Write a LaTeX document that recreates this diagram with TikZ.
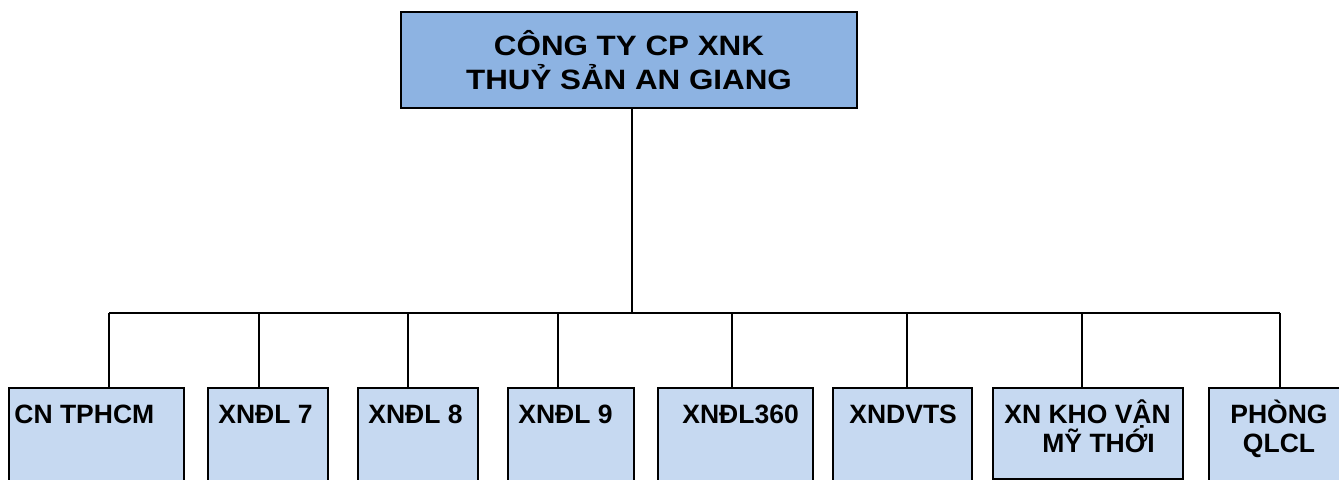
\documentclass[tikz,border=0pt]{standalone}
\usepackage{fontspec}
\setmainfont{Liberation Sans}
\newfontfamily\headfont[FakeStretch=1.12]{Liberation Sans}
\usetikzlibrary{calc}

\definecolor{headblue}{HTML}{8DB3E2}
\definecolor{unitblue}{HTML}{C6D9F1}

\begin{document}
\begin{tikzpicture}[x=0.5pt,y=-0.5pt,
    head/.style={draw,line width=1pt,fill=headblue,align=center,
      font=\headfont\bfseries\fontsize{14}{17}\selectfont},
    unit/.style={draw,line width=1pt,fill=unitblue,anchor=north west,inner sep=0pt},
    unitlabel/.style={inner sep=0pt,anchor=base west,align=left,
      font=\bfseries\fontsize{13.25}{14.25}\selectfont},
    link/.style={line width=0.9pt}]
        \clip (0,0) rectangle (1339,479);

        \node[head,minimum width=228pt,minimum height=48pt] (agifish) at (629,60)
          {CÔNG TY CP XNK\\THUỶ SẢN AN GIANG};

        % bus and drops
        \coordinate (hub) at (632,313);
        \draw[link] (hub |- agifish.south) -- (hub);
        \draw[link] (109,313) coordinate (busl) -- (1280,313) coordinate (busr);

        \foreach \name/\x/\w/\h/\d in {cn/8/87.5/56.5/109,xndl7/207/60/56.5/259,
            xndl8/357/60/56.5/408,xndl9/507/63/56.5/558,xndl360/657/77.5/56.5/732,
            xndvts/832/69.5/56.5/907,khovan/992/95/45.5/1082,qlcl/1208/71/56.5/1280} {
          \node[unit,minimum width=\w pt,minimum height=\h pt] (\name) at (\x,387) {};
          \coordinate (\name-d) at (\d,313);
          \draw[link] (\name-d) -- (\name-d |- \name.north);
        }

        \node[unitlabel] (cn-t) at (14,423) {CN TPHCM};
        \node[unitlabel] (xndl7-t) at (218,423) {XNĐL 7};
        \node[unitlabel] (xndl8-t) at (368,423) {XNĐL 8};
        \node[unitlabel] (xndl9-t) at (518,423) {XNĐL 9};
        \node[unitlabel] (xndl360-t) at (682,423) {XNĐL360};
        \node[unitlabel] (xndvts-t) at (849,423) {XNDVTS};
        % two-line labels sit on their last line
        \node[unitlabel] (khovan-t) at (1004,452) {XN KHO VẬN\\\hspace{19pt}MỸ THỚI};
        \node[unitlabel,anchor=base,align=center] (qlcl-t) at (1279,452) {PHÒNG\\QLCL};
      \end{tikzpicture}
\end{document}
